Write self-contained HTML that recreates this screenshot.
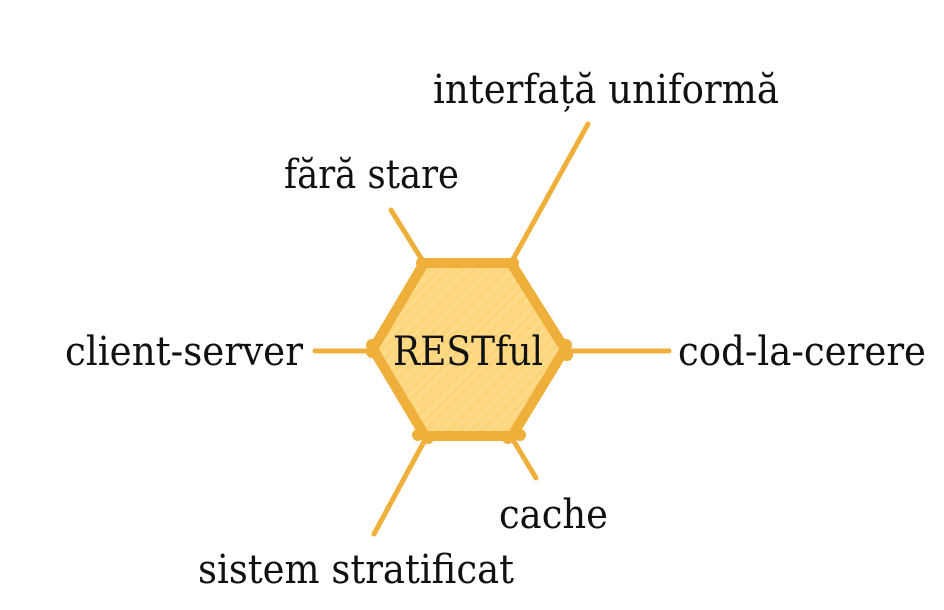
<!DOCTYPE html>
<html><head><meta charset="utf-8"><style>
html,body{margin:0;padding:0;background:#fff;}
svg{display:block;}
text{font-family:"DejaVu Serif","Liberation Serif",serif;font-size:40px;fill:#111;}
</style></head><body>
<svg width="944" height="610" viewBox="0 0 944 610" xmlns="http://www.w3.org/2000/svg">
<defs>
<pattern id="st" patternUnits="userSpaceOnUse" width="8" height="8" patternTransform="rotate(45)">
<rect width="8" height="8" fill="#FDD57A"/>
<rect width="3" height="8" fill="#FCDC8C"/>
</pattern>
</defs>
<g stroke="#EFAF3B" stroke-width="5" stroke-linecap="round" fill="none">
<line x1="391" y1="210" x2="424" y2="263"/>
<line x1="588" y1="124" x2="511" y2="263"/>
<line x1="315" y1="351" x2="373" y2="351"/>
<line x1="565" y1="351" x2="669" y2="351"/>
<line x1="512" y1="438" x2="536" y2="478"/>
<line x1="426" y1="438" x2="374" y2="534"/>
</g>
<polygon points="424,263 511,263 565,349 512,436 425,436 373,349" fill="url(#st)" stroke="#EFAF3B" stroke-width="10" stroke-linejoin="round"/>
<g fill="#EFAF3B">
<circle cx="422" cy="263" r="6"/><circle cx="513" cy="263" r="6"/>
<circle cx="566" cy="345" r="6"/><circle cx="567" cy="355" r="6"/>
<circle cx="520" cy="435" r="6"/><circle cx="508" cy="438" r="6"/>
<circle cx="418" cy="435" r="6"/><circle cx="428" cy="438" r="6"/>
<circle cx="372" cy="345" r="6"/><circle cx="372" cy="352" r="6"/>
</g>
<text x="433" y="103" textLength="346" lengthAdjust="spacingAndGlyphs">interfață uniformă</text>
<text x="284" y="188" textLength="175" lengthAdjust="spacingAndGlyphs">fără stare</text>
<text x="65" y="365" textLength="238" lengthAdjust="spacingAndGlyphs">client-server</text>
<text x="393" y="365" textLength="150" lengthAdjust="spacingAndGlyphs">RESTful</text>
<text x="678" y="365" textLength="248" lengthAdjust="spacingAndGlyphs">cod-la-cerere</text>
<text x="499" y="528" textLength="109" lengthAdjust="spacingAndGlyphs">cache</text>
<text x="198" y="583" textLength="316" lengthAdjust="spacingAndGlyphs">sistem stratificat</text>
</svg>
</body></html>
